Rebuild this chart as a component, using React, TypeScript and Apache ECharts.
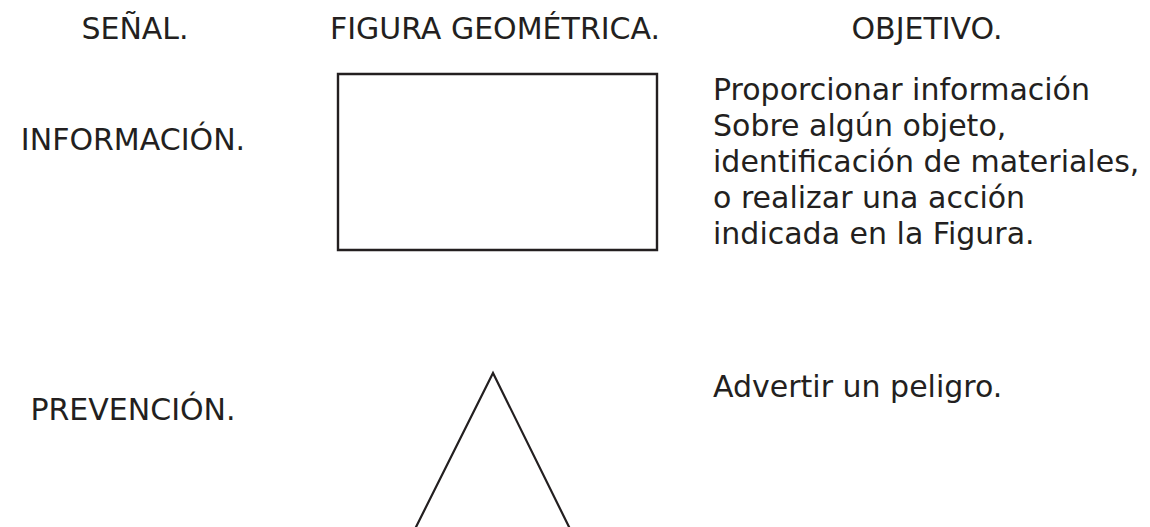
import React, { useEffect, useRef } from "react";
import * as echarts from "echarts";

const headers = ["SEÑAL.", "FIGURA GEOMÉTRICA.", "OBJETIVO."];
const signals = ["INFORMACIÓN.", "PREVENCIÓN."];
const infoObjective = [
  "Proporcionar información",
  "Sobre algún objeto,",
  "identificación de materiales,",
  "o realizar una acción",
  "indicada en la Figura.",
];
const warnObjective = ["Advertir un peligro."];

const INK = "#231f20";
const FONT = "'DejaVu Sans', 'Open Sans', sans-serif";
const SIZE = 30;

export default function App() {
  const ref = useRef<HTMLDivElement>(null);
  useEffect(() => {
    if (!ref.current) return;
    const chart = echarts.init(ref.current, null, { renderer: "svg" });
    const txt = (text: string, x: number, y: number, align: string) => ({
      type: "text",
      x,
      y,
      style: {
        text,
        fill: INK,
        font: `400 ${SIZE}px ${FONT}`,
        textAlign: align,
        textVerticalAlign: "middle",
      },
    });
    const headerX = [135, 495, 927];
    const elements: any[] = [];
    headers.forEach((h, i) => elements.push(txt(h, headerX[i], 28, "center")));
    elements.push(txt(signals[0], 133, 139, "center"));
    elements.push(txt(signals[1], 133, 409, "center"));
    infoObjective.forEach((l, i) => elements.push(txt(l, 713, 89 + i * 36.2, "left")));
    warnObjective.forEach((l, i) => elements.push(txt(l, 713, 386 + i * 36.2, "left")));
    elements.push({
      type: "rect",
      shape: { x: 338, y: 74, width: 319, height: 176 },
      style: { fill: "none", stroke: INK, lineWidth: 2.4 },
    });
    elements.push({
      type: "polyline",
      shape: { points: [[410, 539], [493, 373], [575, 539]] },
      style: { fill: "none", stroke: INK, lineWidth: 2.2 },
    });
    chart.setOption({
      animation: false,
      backgroundColor: "#ffffff",
      graphic: { elements },
    });
    return () => chart.dispose();
  }, []);
  return (
    <div
      ref={ref}
      style={{ position: "fixed", left: 0, top: 0, width: 1150, height: 527 }}
    />
  );
}
